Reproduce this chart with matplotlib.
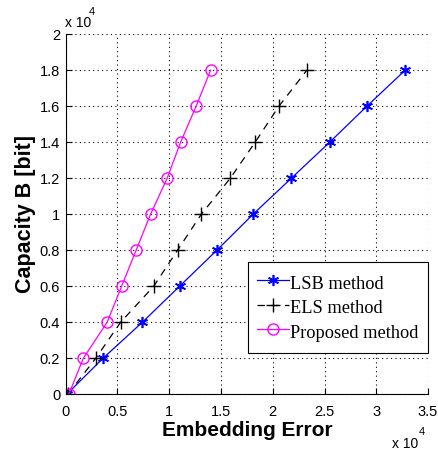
import matplotlib
matplotlib.use('Agg')
import matplotlib.pyplot as plt

# values in units of 1e4 (error, capacity)
lsb_err = [0.01, 0.36, 0.74, 1.10, 1.46, 1.81, 2.18, 2.55, 2.91, 3.28]
els_err = [0.02, 0.29, 0.53, 0.85, 1.08, 1.31, 1.59, 1.83, 2.06, 2.33]
prop_err = [0.03, 0.17, 0.40, 0.54, 0.68, 0.82, 0.98, 1.11, 1.26, 1.40]
capacity = [0.0, 0.2, 0.4, 0.6, 0.8, 1.0, 1.2, 1.4, 1.6, 1.8]

xticks = [0, 0.5, 1, 1.5, 2, 2.5, 3, 3.5]
yticks = [0, 0.2, 0.4, 0.6, 0.8, 1, 1.2, 1.4, 1.6, 1.8, 2]

fig = plt.figure(figsize=(4.39, 4.55), dpi=100)
ax = fig.add_axes([0.1497, 0.1334, 0.8253, 0.7916])

# matlab style asterisk
star = (6, 2, 0)
ax.plot(lsb_err, capacity, '-', color='blue', marker=star, markersize=8,
        markeredgewidth=1.2, linewidth=0.9, label='LSB method')
ax.plot(els_err, capacity, '--', color='black', marker='+', markersize=10,
        linewidth=0.9, dashes=(6, 5), label='ELS method')
ax.plot(prop_err, capacity, '-', color='magenta', marker='o', markersize=8,
        markerfacecolor='none', linewidth=0.9, label='Proposed method')

ax.set_xlim(0, 3.5)
ax.set_ylim(0, 2)
ax.set_xticks(xticks)
ax.set_yticks(yticks)
ax.set_xticklabels(['%g' % t for t in xticks], family='Liberation Sans', fontsize=10.5)
ax.set_yticklabels(['%g' % t for t in yticks], family='Liberation Sans', fontsize=10.5)
ax.tick_params(direction='in', length=4)
ax.tick_params(axis='x', pad=8)
ax.tick_params(axis='y', pad=4)

ax.grid(True, linestyle=(0, (1, 3)), color='black', linewidth=0.8)
ax.spines['top'].set_visible(False)
ax.spines['right'].set_visible(False)

ax.set_xlabel('Embedding Error', family='Liberation Sans', fontsize=15,
              fontweight='bold', labelpad=1)
ax.set_ylabel('Capacity B [bit]', family='Liberation Sans', fontsize=15.5,
              fontweight='bold', labelpad=3)

# multiplier labels like MATLAB
fig.text(0.148, 0.94, 'x 10', family='Liberation Sans', fontsize=10)
fig.text(0.203, 0.967, '4', family='Liberation Sans', fontsize=8)
fig.text(0.893, 0.015, 'x 10', family='Liberation Sans', fontsize=10)
fig.text(0.955, 0.045, '4', family='Liberation Sans', fontsize=8)

leg = ax.legend(loc='lower right', bbox_to_anchor=(1.0, 0.115),
                prop={'family': 'Liberation Serif', 'size': 13.2},
                fancybox=False, framealpha=1, edgecolor='black',
                handlelength=1.7, handleheight=1.6, handletextpad=0.1,
                labelspacing=0.05, borderpad=0.5, borderaxespad=0)
leg.get_frame().set_linewidth(0.8)

fig.savefig('out.png', dpi=100)
